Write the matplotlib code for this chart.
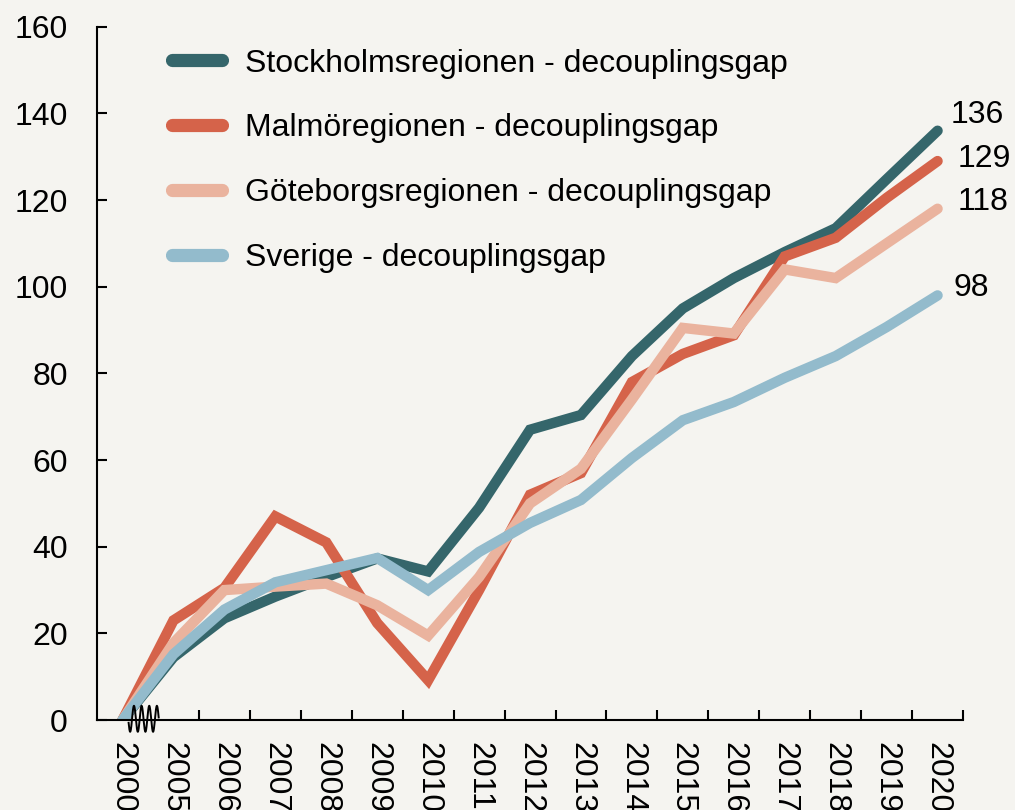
import matplotlib
matplotlib.use("Agg")
import matplotlib.pyplot as plt
import numpy as np

plt.rcParams['font.family'] = ['Liberation Sans', 'DejaVu Sans']

years = ['2000', '2005', '2006', '2007', '2008', '2009', '2010', '2011', '2012',
         '2013', '2014', '2015', '2016', '2017', '2018', '2019', '2020']

stockholm = [0, 14.5, 23.5, 28.5, 33, 37.3, 34.3, 49, 67, 70.4, 84, 95, 102, 108, 113.5, 124.8, 136]
malmo = [0, 23, 30.5, 47, 41, 22.4, 9.2, 30, 52, 57, 78, 84.5, 88.8, 107, 111.3, 120.5, 129]
goteborg = [0, 17.8, 30, 30.8, 31.5, 26.5, 19.5, 33, 50, 58, 74, 90.5, 89.2, 104, 102, 110, 118]
sverige = [0, 15.2, 25.5, 31.8, 34.6, 37.4, 30, 38.8, 45.5, 50.8, 60.5, 69.2, 73.4, 79, 84, 90.7, 98]

names = ['Stockholmsregionen - decouplingsgap', 'Malmöregionen - decouplingsgap',
         'Göteborgsregionen - decouplingsgap', 'Sverige - decouplingsgap']
colors = ['#35666b', '#d5634a', '#eab39e', '#93bbcc']
end_labels = ['136', '129', '118', '98']
label_offsets = [(13, 16), (20, 2), (20, 7), (16, 7)]

bg = '#f5f4f0'
fs = 23
fig = plt.figure(figsize=(10.15, 8.1), dpi=100, facecolor=bg)
ax = fig.add_axes([0.0956, 0.111, 0.8532, 0.856], facecolor=bg)

x = np.arange(len(years))
series = [stockholm, malmo, goteborg, sverige]
for vals, name, c in zip(series, names, colors):
    ax.plot(x, vals, color=c, lw=7.5, solid_capstyle='round',
            solid_joinstyle='miter', label=name)

for vals, lab, off in zip(series, end_labels, label_offsets):
    ax.annotate(lab, (x[-1], vals[-1]), xytext=off, textcoords='offset pixels',
                ha='left', va='center', fontsize=fs, color='black')

ax.set_xlim(-0.5, len(years) - 0.5)
ax.set_ylim(0, 160)
ax.set_yticks(np.arange(0, 161, 20))
ax.set_xticks(x)
ax.set_xticklabels(years, rotation=270, fontsize=fs)
ax.set_xticks(np.arange(1.5, len(years), 1), minor=True)
ax.tick_params(axis='x', which='major', length=0, pad=16)
ax.tick_params(axis='x', which='minor', direction='in', length=7, width=1.5)
ax.tick_params(axis='y', direction='in', length=7, width=1.5, labelsize=fs, pad=21)

for s in ['top', 'right']:
    ax.spines[s].set_visible(False)
for s in ['left', 'bottom']:
    ax.spines[s].set_linewidth(1.5)

# axis break squiggle between 2000 and 2005
sq_x = np.linspace(0.12, 0.71, 200)
sq_y = -3.0 * np.cos(sq_x * 2 * np.pi / 0.15) + 0.3
ax.plot(sq_x, sq_y, color='black', lw=1.4, clip_on=False, zorder=5)

leg_handles = [plt.Line2D([], [], color=c, lw=9.5, solid_capstyle='round') for c in colors]
ax.legend(handles=leg_handles, labels=names, loc='upper left',
          bbox_to_anchor=(0.169, 0.94), bbox_transform=fig.transFigure,
          borderaxespad=0, borderpad=0, frameon=False, fontsize=fs,
          handlelength=1.57, handletextpad=0.72, labelspacing=1.09)

fig.savefig('out.png', dpi=100, facecolor=bg)
